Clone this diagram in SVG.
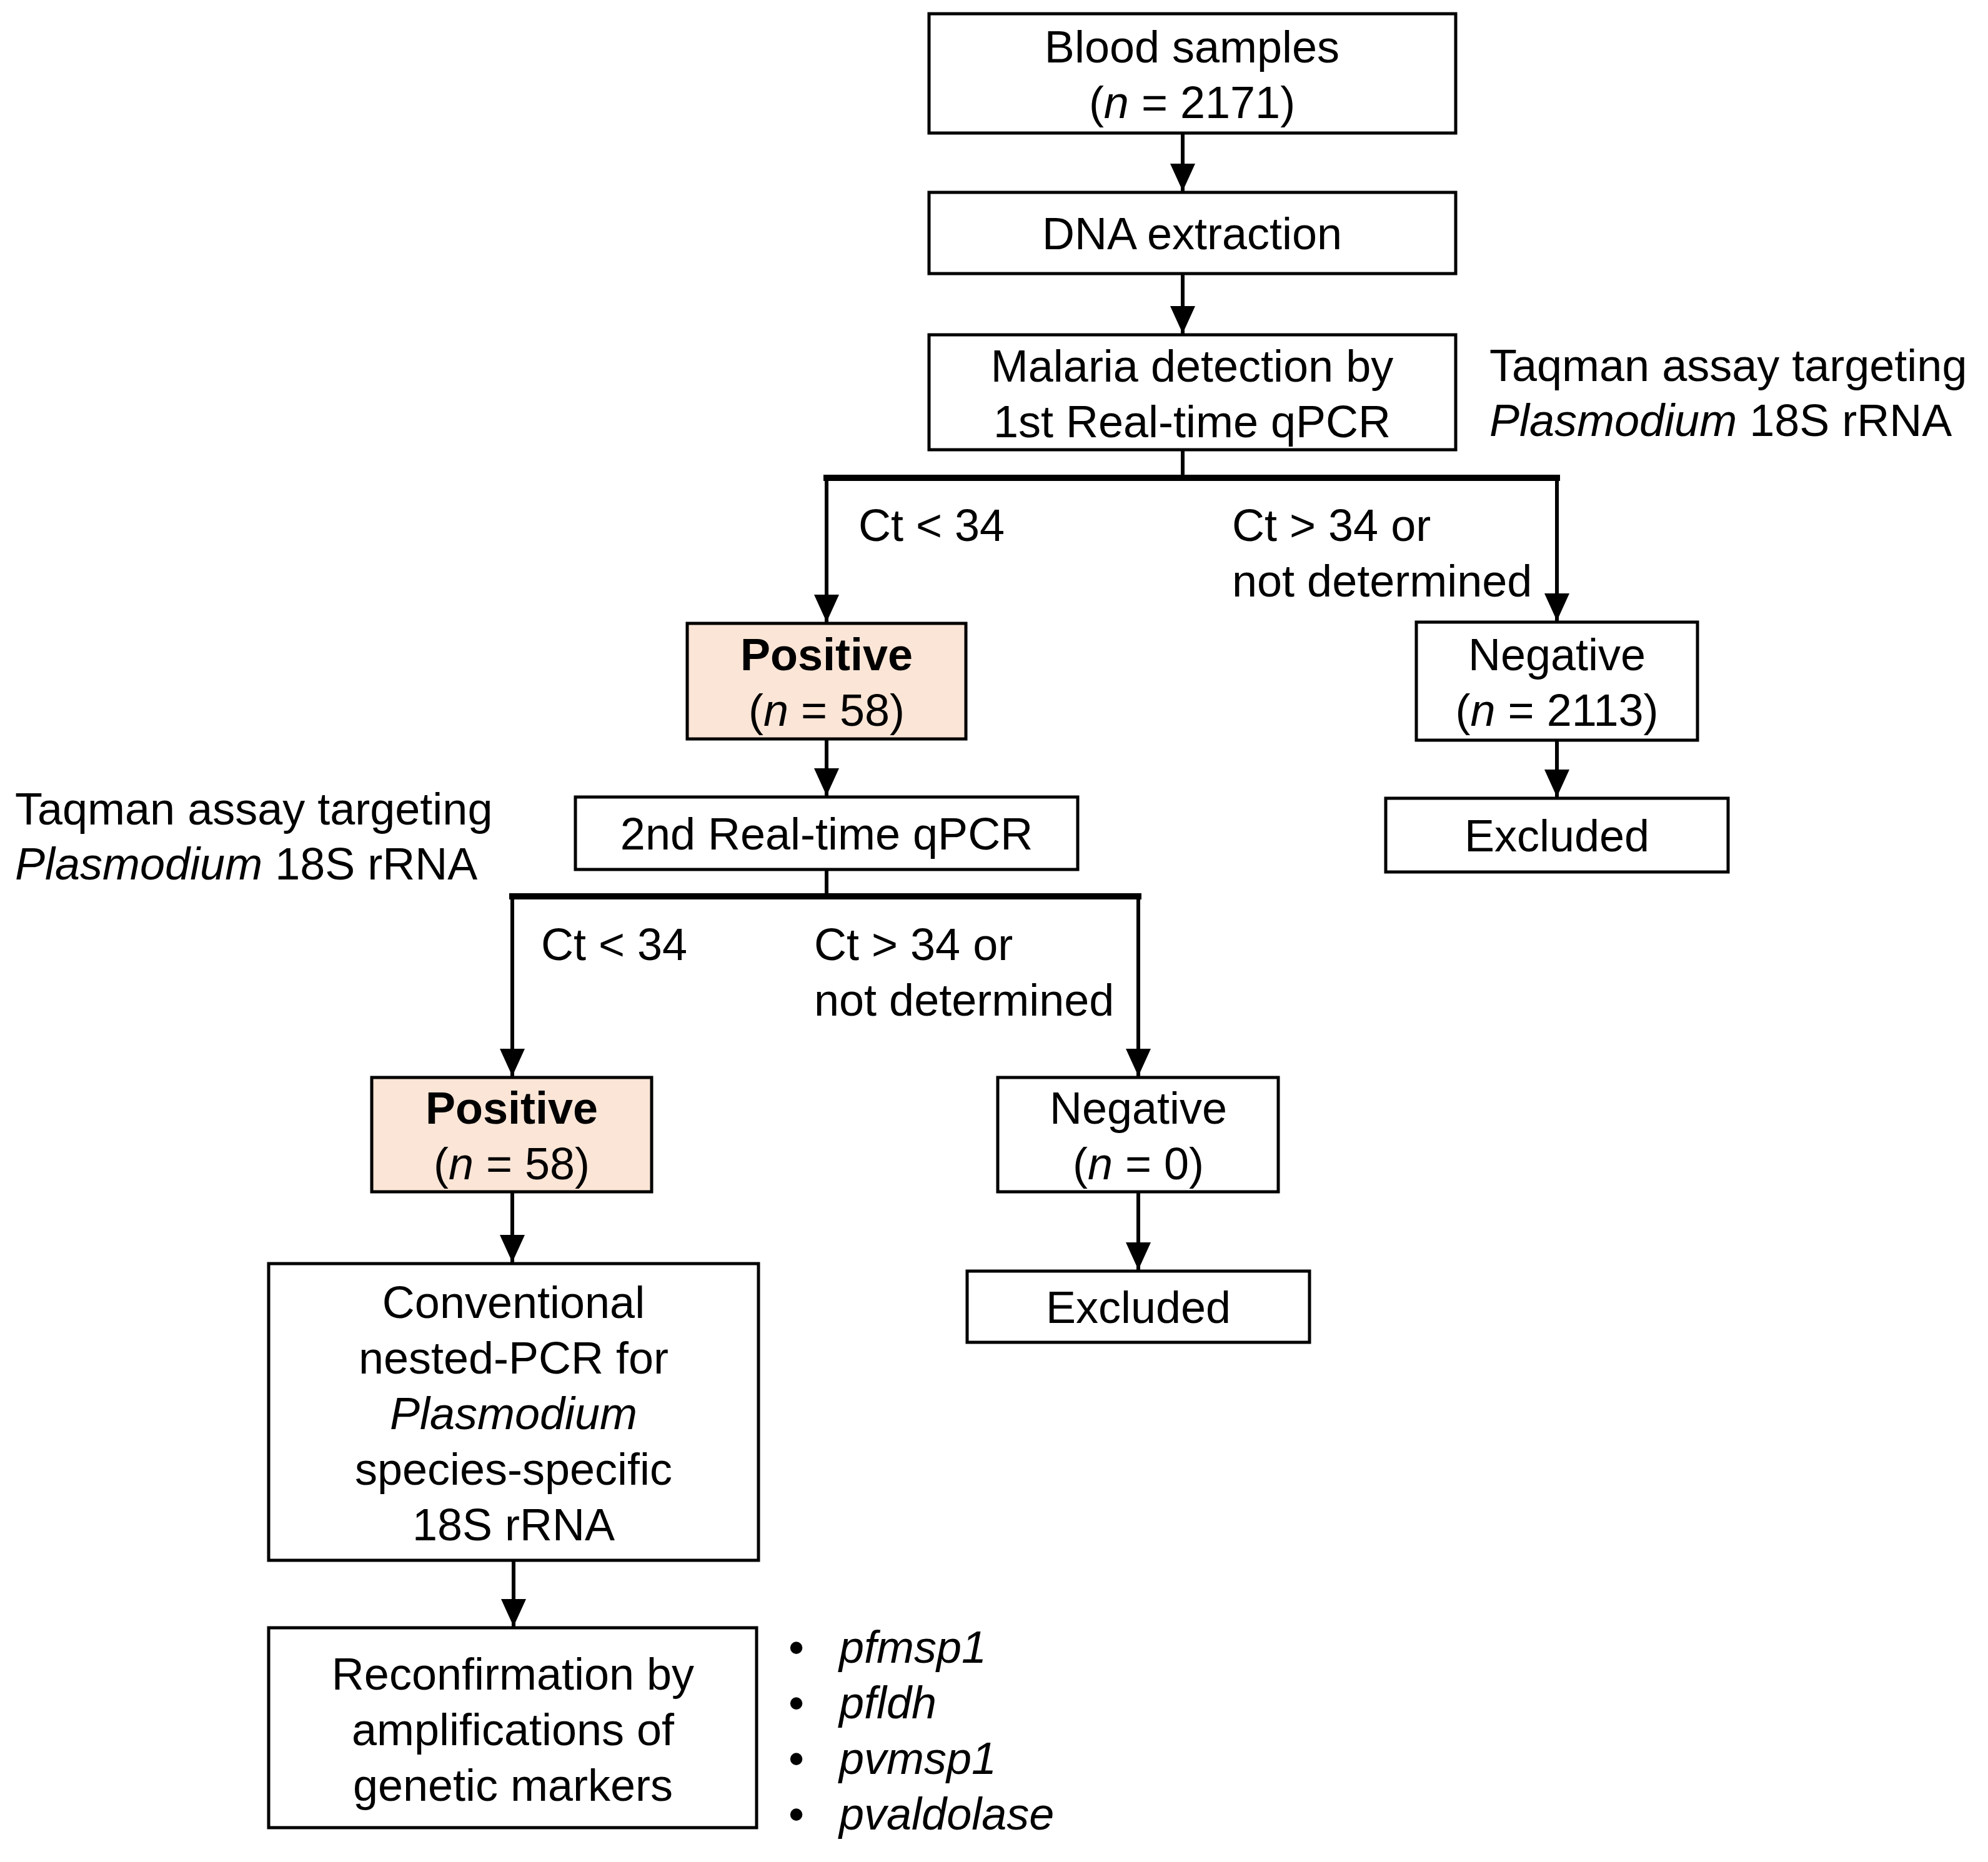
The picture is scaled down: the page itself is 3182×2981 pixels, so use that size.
<svg xmlns="http://www.w3.org/2000/svg" width="3182" height="2981" viewBox="0 0 3182 2981">
<defs>
<style>
text{font-family:"Liberation Sans",Arial,sans-serif;font-size:72px;fill:#000}
.c{text-anchor:middle}
.b{font-weight:bold}
.i{font-style:italic}
.box{fill:#fff;stroke:#000;stroke-width:5}
.pos{fill:#FBE5D6;stroke:#000;stroke-width:5}
.ln{fill:none;stroke:#000;stroke-width:6}
.thick{fill:none;stroke:#000;stroke-width:10}
</style>
<marker id="ah" markerUnits="userSpaceOnUse" markerWidth="44" markerHeight="40" refX="44" refY="20" orient="auto" viewBox="0 0 44 40">
<path d="M0,0 L44,20 L0,40 Z" fill="#000"/>
</marker>
</defs>
<rect width="3182" height="2981" fill="#fff"/>

<g id="connectors">
<line class="ln" x1="1893" y1="213" x2="1893" y2="306" marker-end="url(#ah)"/>
<line class="ln" x1="1893" y1="438" x2="1893" y2="534" marker-end="url(#ah)"/>
<line class="ln" x1="1893" y1="720" x2="1893" y2="765"/>
<line class="thick" x1="1318" y1="765" x2="2497" y2="765"/>
<line class="ln" x1="1323" y1="765" x2="1323" y2="996" marker-end="url(#ah)"/>
<line class="ln" x1="2492" y1="765" x2="2492" y2="994" marker-end="url(#ah)"/>
<line class="ln" x1="1323" y1="1183" x2="1323" y2="1274" marker-end="url(#ah)"/>
<line class="ln" x1="2492" y1="1185" x2="2492" y2="1276" marker-end="url(#ah)"/>
<line class="ln" x1="1323" y1="1392" x2="1323" y2="1435"/>
<line class="thick" x1="815" y1="1435" x2="1827" y2="1435"/>
<line class="ln" x1="820" y1="1435" x2="820" y2="1723" marker-end="url(#ah)"/>
<line class="ln" x1="1822" y1="1435" x2="1822" y2="1723" marker-end="url(#ah)"/>
<line class="ln" x1="820" y1="1908" x2="820" y2="2021" marker-end="url(#ah)"/>
<line class="ln" x1="1822" y1="1908" x2="1822" y2="2033" marker-end="url(#ah)"/>
<line class="ln" x1="822" y1="2498" x2="822" y2="2604" marker-end="url(#ah)"/>
</g>

<g id="blood">
<rect class="box" x="1487" y="22" width="843" height="191"/>
<text class="c" x="1908" y="100">Blood samples</text>
<text class="c" x="1908" y="189">(<tspan class="i">n</tspan> = 2171)</text>
</g>
<g id="dna">
<rect class="box" x="1487" y="308" width="843" height="130"/>
<text class="c" x="1908" y="399">DNA extraction</text>
</g>
<g id="malaria">
<rect class="box" x="1487" y="536" width="843" height="184"/>
<text class="c" x="1908" y="611">Malaria detection by</text>
<text class="c" x="1908" y="700">1st Real-time qPCR</text>
</g>
<g id="taqman1">
<text x="2384" y="610">Taqman assay targeting</text>
<text x="2384" y="698"><tspan class="i">Plasmodium</tspan> 18S rRNA</text>
</g>
<g id="label-ct1">
<text x="1374" y="866">Ct &lt; 34</text>
</g>
<g id="label-ct1b">
<text x="1972" y="866">Ct &gt; 34 or</text>
<text x="1972" y="955">not determined</text>
</g>
<g id="positive1">
<rect class="pos" x="1100" y="998" width="446" height="185"/>
<text class="c b" x="1323" y="1073">Positive</text>
<text class="c" x="1323" y="1162">(<tspan class="i">n</tspan> = 58)</text>
</g>
<g id="negative1">
<rect class="box" x="2267" y="996" width="450" height="189"/>
<text class="c" x="2492" y="1073">Negative</text>
<text class="c" x="2492" y="1162">(<tspan class="i">n</tspan> = 2113)</text>
</g>
<g id="excluded1">
<rect class="box" x="2218" y="1278" width="548" height="118"/>
<text class="c" x="2492" y="1363">Excluded</text>
</g>
<g id="qpcr2">
<rect class="box" x="921" y="1276" width="804" height="116"/>
<text class="c" x="1323" y="1360">2nd Real-time qPCR</text>
</g>
<g id="taqman2">
<text x="24" y="1320">Taqman assay targeting</text>
<text x="24" y="1408"><tspan class="i">Plasmodium</tspan> 18S rRNA</text>
</g>
<g id="label-ct2">
<text x="866" y="1537">Ct &lt; 34</text>
</g>
<g id="label-ct2b">
<text x="1303" y="1537">Ct &gt; 34 or</text>
<text x="1303" y="1626">not determined</text>
</g>
<g id="positive2">
<rect class="pos" x="595" y="1725" width="448" height="183"/>
<text class="c b" x="819" y="1799">Positive</text>
<text class="c" x="819" y="1888">(<tspan class="i">n</tspan> = 58)</text>
</g>
<g id="negative2">
<rect class="box" x="1597" y="1725" width="449" height="183"/>
<text class="c" x="1822" y="1799">Negative</text>
<text class="c" x="1822" y="1888">(<tspan class="i">n</tspan> = 0)</text>
</g>
<g id="excluded2">
<rect class="box" x="1548" y="2035" width="548" height="114"/>
<text class="c" x="1822" y="2118">Excluded</text>
</g>
<g id="conventional">
<rect class="box" x="430" y="2023" width="784" height="475"/>
<text class="c" x="822" y="2110">Conventional</text>
<text class="c" x="822" y="2199">nested-PCR for</text>
<text class="c i" x="822" y="2288">Plasmodium</text>
<text class="c" x="822" y="2377">species-specific</text>
<text class="c" x="822" y="2466">18S rRNA</text>
</g>
<g id="reconfirmation">
<rect class="box" x="430" y="2606" width="781" height="320"/>
<text class="c" x="821" y="2705">Reconfirmation by</text>
<text class="c" x="821" y="2794">amplifications of</text>
<text class="c" x="821" y="2883">genetic markers</text>
</g>
<g id="markers">
<text x="1262" y="2662">•</text>
<text class="i" x="1343" y="2662">pfmsp1</text>
<text x="1262" y="2751">•</text>
<text class="i" x="1343" y="2751">pfldh</text>
<text x="1262" y="2840">•</text>
<text class="i" x="1343" y="2840">pvmsp1</text>
<text x="1262" y="2929">•</text>
<text class="i" x="1343" y="2929">pvaldolase</text>
</g>
</svg>
